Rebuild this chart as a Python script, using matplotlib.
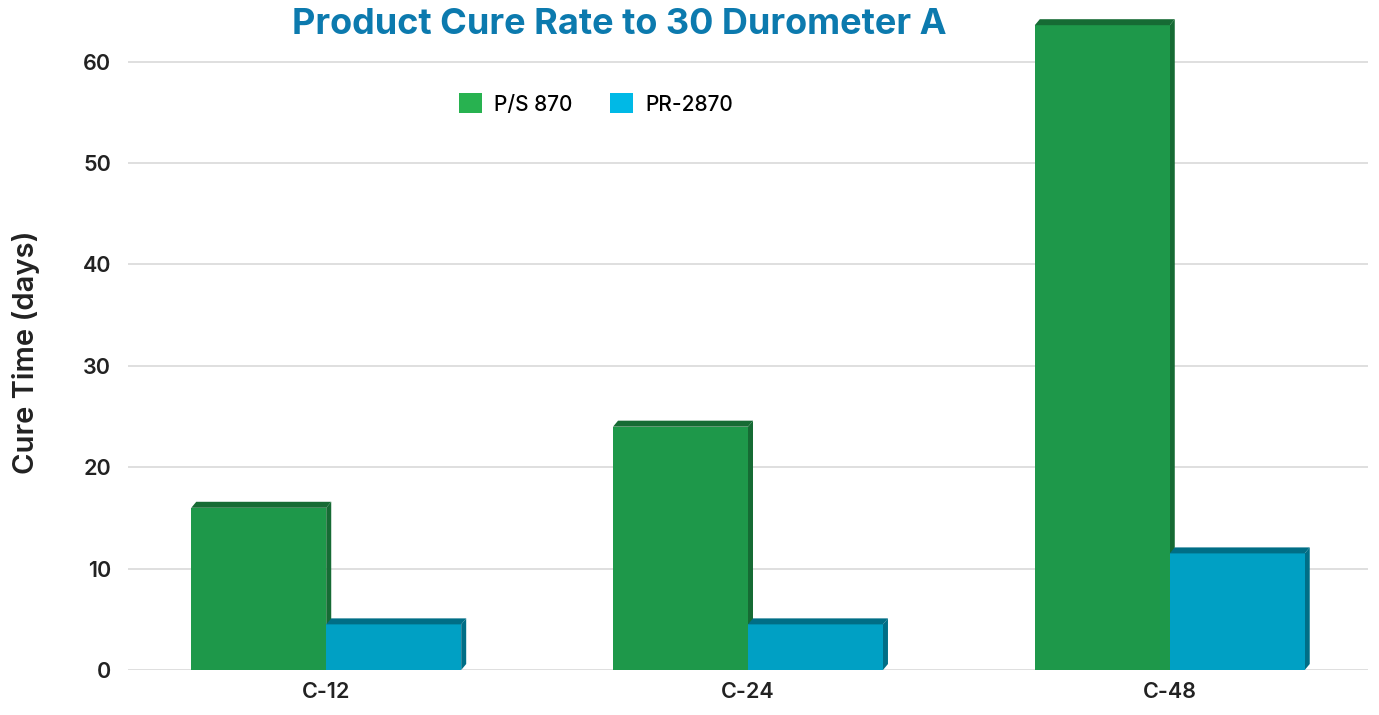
import matplotlib
matplotlib.use('Agg')
import matplotlib.pyplot as plt
from matplotlib.patches import Polygon, Patch
import numpy as np

categories = ['C-12', 'C-24', 'C-48']
series_names = ['P/S 870', 'PR-2870']
ps870 = [16, 24, 63.6]
pr2870 = [4.5, 4.5, 11.5]

front_colors = ['#1E984A', '#00A0C4']
dark_colors = ['#166B34', '#006E86']
legend_colors = ['#28B250', '#00B9E6']
title_color = '#0C7AAE'

plt.rcParams['font.family'] = ['Inter', 'DejaVu Sans']

fig = plt.figure(figsize=(13.79, 7.15), dpi=100)
ax = fig.add_axes([128 / 1379, 45 / 715, 1240 / 1379, 659 / 715])

ax.set_xlim(-0.47, 2.47)
ax.set_ylim(0, 65)

x = np.arange(len(categories))
width = 0.32

### Pixel depth of the fake 3D faces, converted to data units.
depth_px_x, depth_px_y = 5, 6
ax_w_px = ax.get_position().width * fig.get_figwidth() * fig.dpi
ax_h_px = ax.get_position().height * fig.get_figheight() * fig.dpi
dx = depth_px_x * (2.47 + 0.47) / ax_w_px
dy = depth_px_y * 65 / ax_h_px

for i, vals in enumerate([ps870, pr2870]):
    offs = x + (i - 0.5) * width
    ax.bar(offs, vals, width=width, color=front_colors[i], zorder=3)
    for xc, v in zip(offs, vals):
        xl, xr = xc - width / 2, xc + width / 2
        top = Polygon([[xl, v], [xl + dx, v + dy], [xr + dx, v + dy], [xr, v]],
                      closed=True, facecolor=dark_colors[i], edgecolor='none',
                      zorder=3, clip_on=False)
        side = Polygon([[xr, 0], [xr + dx, dy], [xr + dx, v + dy], [xr, v]],
                       closed=True, facecolor=dark_colors[i], edgecolor='none',
                       zorder=2.9, clip_on=False)
        ax.add_patch(top)
        ax.add_patch(side)

ax.set_xticks(x)
ax.set_xticklabels(categories, fontsize=15.5, fontweight='semibold', color='#222222')
ax.set_yticks(np.arange(0, 61, 10))
ax.tick_params(axis='y', labelsize=15.5, colors='#222222', length=0, pad=12)
ax.tick_params(axis='x', length=0, pad=9)
for lab in ax.get_yticklabels():
    lab.set_fontweight('semibold')
ax.grid(axis='y', color='#d9d9d9', linewidth=1.2, zorder=0)
ax.set_axisbelow(True)
for s in ax.spines.values():
    s.set_visible(False)

ax.set_ylabel('Cure Time (days)', fontsize=21, fontweight='semibold', color='#222222')
ax.yaxis.set_label_coords(-0.071, 0.482)

fig.text(619 / 1379, 1 - 25 / 715, 'Product Cure Rate to 30 Durometer A', ha='center', va='center',
         fontsize=26, fontweight='bold', color=title_color)

handles = [Patch(facecolor=c, edgecolor='none') for c in legend_colors]
fig.legend(handles, series_names, loc='center', bbox_to_anchor=(596 / 1379, 1 - 104 / 715),
           ncol=2, frameon=False, handlelength=1.1, handleheight=1.1,
           handletextpad=0.6, columnspacing=1.8,
           prop={'size': 15, 'weight': 'medium'})

plt.savefig('out.png', dpi=100)
